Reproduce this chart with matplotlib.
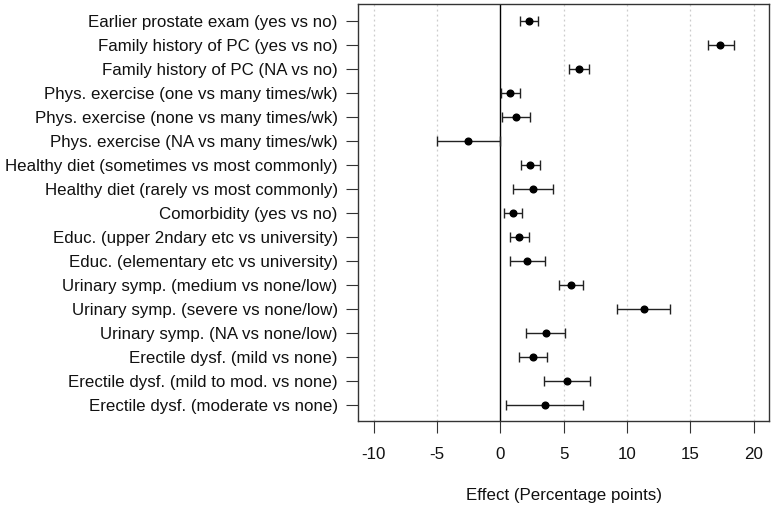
import matplotlib
matplotlib.use("Agg")
import matplotlib.pyplot as plt

labels = [
    "Earlier prostate exam (yes vs no)",
    "Family history of PC (yes vs no)",
    "Family history of PC (NA vs no)",
    "Phys. exercise (one vs many times/wk)",
    "Phys. exercise (none vs many times/wk)",
    "Phys. exercise (NA vs many times/wk)",
    "Healthy diet (sometimes vs most commonly)",
    "Healthy diet (rarely vs most commonly)",
    "Comorbidity (yes vs no)",
    "Educ. (upper 2ndary etc vs university)",
    "Educ. (elementary etc vs university)",
    "Urinary symp. (medium vs none/low)",
    "Urinary symp. (severe vs none/low)",
    "Urinary symp. (NA vs none/low)",
    "Erectile dysf. (mild vs none)",
    "Erectile dysf. (mild to mod. vs none)",
    "Erectile dysf. (moderate vs none)",
]
estimate = [2.23, 17.35, 6.2, 0.79, 1.26, -2.52, 2.37, 2.55, 1.0,
            1.47, 2.1, 5.55, 11.3, 3.57, 2.55, 5.26, 3.5]
lower = [1.52, 16.35, 5.39, 0.05, 0.16, -4.99, 1.6, 0.97, 0.32,
         0.74, 0.74, 4.65, 9.22, 2.02, 1.47, 3.42, 0.47]
upper = [2.97, 18.4, 7.02, 1.58, 2.34, -0.05, 3.13, 4.13, 1.73,
         2.23, 3.52, 6.49, 13.4, 5.07, 3.65, 7.1, 6.49]
xticks = [-10, -5, 0, 5, 10, 15, 20]

plt.rcParams['font.family'] = ['Liberation Sans', 'DejaVu Sans']

fig = plt.figure(figsize=(7.74, 5.09), dpi=100)
ax = fig.add_axes([358.3 / 774, 1 - 421.3 / 509, (769 - 358.3) / 774, (421.3 - 4.3) / 509])

n = len(labels)
ys = list(range(n, 0, -1))

for t in xticks:
    if t != 0:
        ax.axvline(t, color='#cccccc', lw=0.9, ls=(0, (1.5, 2.5)), zorder=0)
ax.axvline(0, color='black', lw=1.0, zorder=1)

xerr = [[e - l for e, l in zip(estimate, lower)], [u - e for e, u in zip(estimate, upper)]]
ax.errorbar(estimate, ys, xerr=xerr, fmt='o', color='black', ecolor='#222222',
            markersize=4.8, elinewidth=1.0, capsize=3.3, capthick=1.0, zorder=3)

ax.set_xlim(-11.2, 21.2)
ax.set_ylim(0.33, n + 0.68)
ax.set_xticks(xticks)
ax.set_xticklabels([str(t) for t in xticks])
ax.set_yticks(ys)
ax.set_yticklabels(labels)
ax.tick_params(axis='both', length=8.3, width=0.8, labelsize=12.2, color='#333333',
               labelcolor='#111111')
ax.tick_params(axis='y', pad=6.5)
ax.tick_params(axis='x', pad=10)
for s in ax.spines.values():
    s.set_linewidth(1.0)
    s.set_color('#333333')
ax.set_xlabel("Effect (Percentage points)", fontsize=12.2, labelpad=19, color='#111111')

fig.savefig("out.png", dpi=100)
